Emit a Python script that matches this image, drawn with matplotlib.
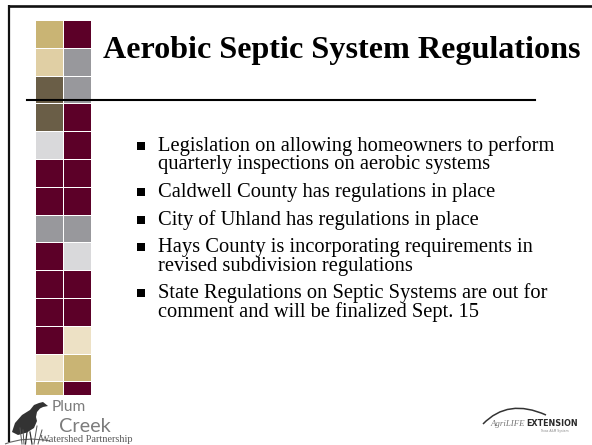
import matplotlib
matplotlib.use("Agg")
import matplotlib.pyplot as plt
from matplotlib.patches import Rectangle, Polygon, PathPatch
from matplotlib.path import Path

# slide content
title = "Aerobic Septic System Regulations"
bullets = [
    ["Legislation on allowing homeowners to perform",
     "quarterly inspections on aerobic systems"],
    ["Caldwell County has regulations in place"],
    ["City of Uhland has regulations in place"],
    ["Hays County is incorporating requirements in",
     "revised subdivision regulations"],
    ["State Regulations on Septic Systems are out for",
     "comment and will be finalized Sept. 15"],
]

# colour tiles down the left side, (left column, right column)
tan = "#c9b474"
maroon = "#5c0028"
ltan = "#e0cfa4"
gray = "#98989c"
olive = "#6a5e47"
lgray = "#d9d9db"
cream = "#ede1c5"
tiles = [
    (tan, maroon), (ltan, gray), (olive, gray), (olive, maroon),
    (lgray, maroon), (maroon, maroon), (maroon, maroon), (gray, gray),
    (maroon, lgray), (maroon, maroon), (maroon, maroon), (maroon, cream),
    (cream, tan), (tan, maroon),
]

serif = "Liberation Serif"
sans = ["Lato", "DejaVu Sans"]

fig = plt.figure(figsize=(5.92, 4.45), dpi=100)
ax = fig.add_axes([0, 0, 1, 1])
ax.set_xlim(0, 592)
ax.set_ylim(445, 0)
ax.axis("off")
renderer = fig.canvas.get_renderer()


def fit_size(txt, width, **kw):
    # font size that makes txt span the given width in pixels
    t = ax.text(0, 0, txt, fontsize=10, **kw)
    w = t.get_window_extent(renderer).width
    t.remove()
    return 10 * width / w


# tiles
step = 27.8
for i, (c1, c2) in enumerate(tiles):
    y = 21 + i * step
    h = step - 1 if i < len(tiles) - 1 else 13
    ax.add_patch(Rectangle((36, y), 26.8, h, fc=c1, ec="none"))
    ax.add_patch(Rectangle((63.8, y), 26.8, h, fc=c2, ec="none"))

# frame
ax.plot([8, 592], [6, 6], color="#111111", lw=1.9, solid_capstyle="butt")
ax.plot([8.6, 8.6], [5, 442], color="#111111", lw=1.6, solid_capstyle="butt")

# title and rule
ts = fit_size(title, 478, family=serif, fontweight="bold")
ax.text(103, 58, title, fontsize=ts, family=serif, fontweight="bold",
        va="baseline", color="black")
ax.plot([27, 535], [99.5, 99.5], color="black", lw=1.5)

# bullets
bs = fit_size(bullets[0][0], 396, family=serif)
y = 151
for item in bullets:
    ax.plot(141, y - 5, marker="s", ms=5.6, color="black", mew=0)
    for k, line in enumerate(item):
        ax.text(158, y, line, fontsize=bs, family=serif, va="baseline",
                color="black")
        y += 18.5
    y += 9

# Plum Creek logo
heron = [(39, 403), (43, 402), (48, 406), (43, 407), (40, 408.5),
         (37, 412), (36, 417), (37, 421), (34, 428), (27, 432.5), (18, 435),
         (12, 432), (15, 423), (22, 415), (30, 410), (34, 405)]
ax.add_patch(Polygon(heron, closed=True, fc="#333333", ec="none"))
for x0, x1 in [(27, 25.5), (30, 32)]:
    ax.plot([x0, x1], [432, 444], color="#333333", lw=0.9)
for x0, x1, y0 in [(22, 20, 428), (34, 37, 426), (38, 42, 430), (24, 23, 430)]:
    ax.plot([x0, x1], [444, y0], color="#555555", lw=0.7)
ax.add_patch(PathPatch(Path([(5, 444), (25, 436), (50, 441)],
                            [Path.MOVETO, Path.CURVE3, Path.CURVE3]),
                       fc="none", ec="#666666", lw=0.8))
ax.text(52, 411, "Plum", fontsize=fit_size("Plum", 34, family=sans),
        family=sans, color="#7c7c7c", va="baseline")
ax.text(59, 432, "Creek", fontsize=fit_size("Creek", 52, family=sans),
        family=sans, color="#7c7c7c", va="baseline")
ax.text(40, 442, "Watershed Partnership",
        fontsize=fit_size("Watershed Partnership", 92, family=serif),
        family=serif, color="#5a5a5a", va="baseline")

# AgriLIFE Extension logo
ax.add_patch(PathPatch(Path([(483, 424), (508, 398), (546, 415)],
                            [Path.MOVETO, Path.CURVE3, Path.CURVE3]),
                       fc="none", ec="#333333", lw=1.1))
ax.text(490, 426, "AgriLIFE", fontsize=fit_size("AgriLIFE", 35, family=serif),
        family=serif, color="#777777", va="baseline", style="italic")
ax.text(526, 426, "EXTENSION",
        fontsize=fit_size("EXTENSION", 52, family="DejaVu Sans",
                          fontweight="bold"),
        family="DejaVu Sans", fontweight="bold", color="#2a2a2a",
        va="baseline")
ax.text(540, 432, "Texas A&M System", fontsize=2.2, family="DejaVu Sans",
        color="#888888", va="baseline")

fig.savefig("out.png", dpi=100)
